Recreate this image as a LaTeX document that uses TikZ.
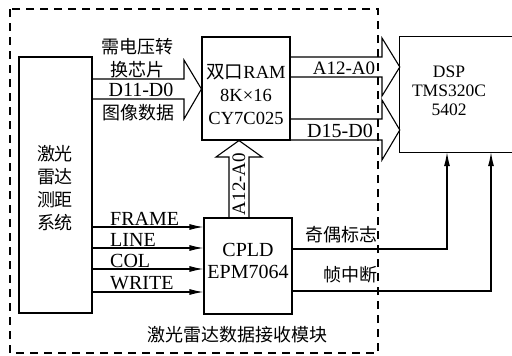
\documentclass[tikz,border=0pt]{standalone}
\usepackage{fontspec}
\setmainfont{Liberation Serif}
\newfontfamily\cjk{Noto Sans CJK SC}
\usetikzlibrary{arrows.meta}
\begin{document}
\begin{tikzpicture}[x=1pt,y=-1pt,
  box/.style={draw,line width=1.1pt,inner sep=0pt},
  txt/.style={inner sep=0pt,align=center},
  lat/.style={inner sep=0pt,font=\fontsize{20}{22}\selectfont},
  zh/.style={inner sep=0pt,font=\fontsize{18}{23}\selectfont\cjk},
  sig/.style={line width=1.1pt,-{Latex[length=14pt,width=6pt]}},
  hollow/.style={line width=1.1pt,line join=miter},
  module/.style={line width=1.1pt,dash pattern=on 8pt off 6pt}]
\useasboundingbox (0,0) rectangle (512,356);
% module frame
\draw[module] (10,9) rectangle (378,353);
% boxes
\node[box,minimum width=73pt,minimum height=256pt] (laser) at (55.5,185) {};
\node[box,minimum width=88pt,minimum height=103pt] (ram) at (246,88.5) {};
\node[box,minimum width=88pt,minimum height=96pt] (cpld) at (248,266) {};
\node[inner sep=0pt,minimum width=112pt,minimum height=115pt] (dsp) at (456,94.5) {};
\draw[line width=1.1pt] (dsp.north east) -- (dsp.north west) -- (dsp.south west) -- (dsp.south east);
% box texts
\node[txt,zh] (lasertext) at (55,188) {激光\\雷达\\测距\\系统};
\node[txt,font=\fontsize{18.5}{23}\selectfont] (ramtext) at (246,95) {{\cjk 双口}RAM\\8K×16\\CY7C025};
\node[txt,font=\fontsize{17.5}{19}\selectfont] (dsptext) at (449,91) {DSP\\TMS320C\\5402};
\node[txt,font=\fontsize{20}{22}\selectfont] (cpldtext) at (248,261) {CPLD\\EPM7064};
% hollow bus arrows
\draw[hollow] (laser.east |- 0,79) -- (184,79) -- (184,60) -- (ram.west |- 0,89) -- (184,119) -- (184,99) -- (laser.east |- 0,99);
\draw[hollow] (ram.east |- 0,57) -- (382,57) -- (382,38) -- (dsp.west |- 0,67) -- (382,96) -- (382,77) -- (ram.east |- 0,77);
\draw[hollow] (ram.east |- 0,119) -- (382,119) -- (382,100) -- (dsp.west |- 0,130) -- (382,160) -- (382,140) -- (ram.east |- 0,140);
\draw[hollow] (cpld.north -| 229,0) -- (229,157) -- (216,157) -- (ram.south -| 239,0) -- (262,157) -- (249,157) -- (cpld.north -| 249,0);
% bus labels
\node[zh] (l1) at (137,47) {需电压转};
\node[zh] (l2) at (137,70) {换芯片};
\node[lat] (l3) at (141,90) {D11-D0};
\node[zh] (l4) at (138,113) {图像数据};
\node[lat,font=\fontsize{19}{22}\selectfont] (l5) at (344,68) {A12-A0};
\node[lat] (l6) at (340,131) {D15-D0};
\node[lat,font=\fontsize{19}{22}\selectfont,rotate=90] (l7) at (239,184) {A12-A0};
% control signals
\draw[sig] (laser.east |- 0,227) -- (cpld.west |- 0,227);
\draw[sig] (laser.east |- 0,248) -- (cpld.west |- 0,248);
\draw[sig] (laser.east |- 0,269) -- (cpld.west |- 0,269);
\draw[sig] (laser.east |- 0,292) -- (cpld.west |- 0,292);
\node[lat,anchor=base west] (s1) at (110,225) {FRAME};
\node[lat,anchor=base west] (s2) at (110,246) {LINE};
\node[lat,anchor=base west] (s3) at (110,267) {COL};
\node[lat,anchor=base west] (s4) at (110,289) {WRITE};
% outputs to DSP
\draw[sig] (cpld.east |- 0,249) -- (447,249) -- (dsp.south -| 447,0);
\draw[sig] (cpld.east |- 0,291) -- (491,291) -- (dsp.south -| 491,0);
\node[zh,anchor=east] (o1) at (378,235) {奇偶标志};
\node[zh,anchor=east] (o2) at (378,275) {帧中断};
% module caption
\node[zh] (cap) at (237,335) {激光雷达数据接收模块};
\end{tikzpicture}
\end{document}
